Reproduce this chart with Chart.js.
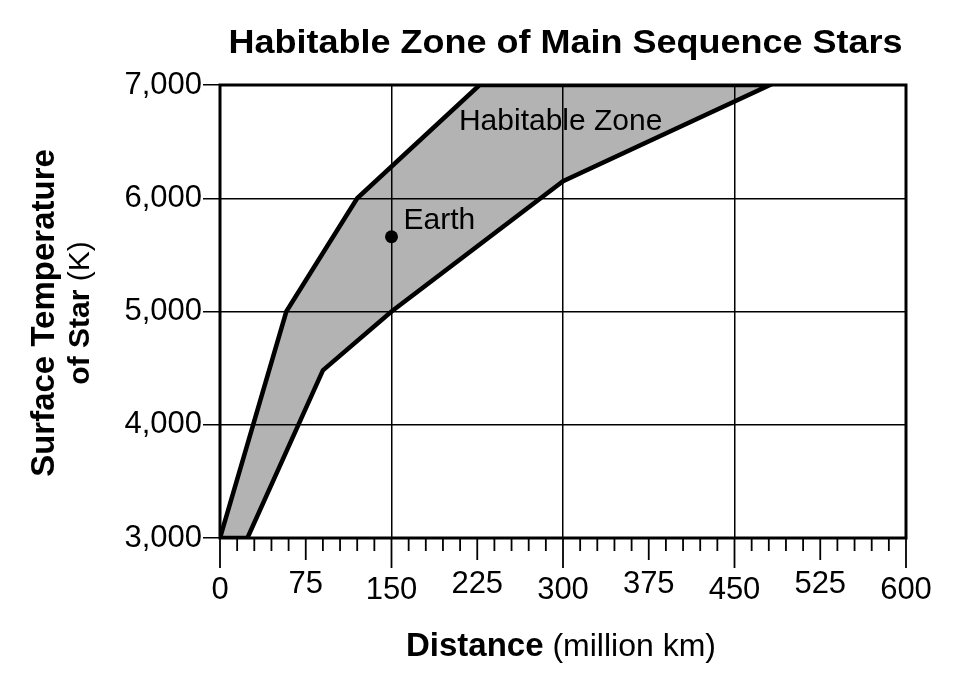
<!DOCTYPE html>
<html>
<head>
<meta charset="utf-8">
<script src="https://cdn.jsdelivr.net/npm/chart.js@4.4.1/dist/chart.umd.min.js"></script>
<style>
html,body{margin:0;padding:0;background:#fff;}
#wrap{width:955px;height:673px;position:relative;}
</style>
</head>
<body>
<div id="wrap"><canvas id="c" width="955" height="673"></canvas></div>
<script>
// ---- data ----
const chartTitle = 'Habitable Zone of Main Sequence Stars';
const xTickLabels = [0, 75, 150, 225, 300, 375, 450, 525, 600];
const yTickLabels = [3000, 4000, 5000, 6000, 7000];
const innerDist = [0, 58, 120, 227];
const innerTemp = [3000, 5000, 6000, 7000];
const outerDist = [24, 90, 150, 300, 481];
const outerTemp = [3000, 4480, 5000, 6150, 7000];
const earthDist = [150];
const earthTemp = [5660];
const zoneLabel = {text: 'Habitable Zone', x: 209, y: 6600};

const FONT = "'Liberation Sans', Arial, Helvetica, sans-serif";

// polygon: inner boundary up, outer boundary down
const zonePoly = [];
innerDist.forEach((d, i) => zonePoly.push({x: d, y: innerTemp[i]}));
for (let i = outerDist.length - 1; i >= 0; i--) zonePoly.push({x: outerDist[i], y: outerTemp[i]});
zonePoly.push({x: innerDist[0], y: innerTemp[0]});

const earthPts = earthDist.map((d, i) => ({x: d, y: earthTemp[i]}));

const decor = {
  id: 'decor',
  afterDraw(chart) {
    const ctx = chart.ctx;
    const a = chart.chartArea;
    const xs = chart.scales.x, ys = chart.scales.y;
    ctx.save();
    // frame
    ctx.strokeStyle = '#000';
    ctx.lineWidth = 3;
    ctx.strokeRect(a.left, a.top, a.right - a.left, a.bottom - a.top);
    // x tick marks
    ctx.lineWidth = 1.8;
    xs.ticks.forEach(t => {
      const v = t.value;
      const px = xs.getPixelForValue(v);
      const len = (v % 150 === 0) ? 30 : (v % 75 === 0 ? 22 : 13);
      ctx.beginPath();
      ctx.moveTo(px, a.bottom);
      ctx.lineTo(px, a.bottom + len);
      ctx.stroke();
    });
    // x tick labels (staggered)
    ctx.fillStyle = '#000';
    ctx.font = '31px ' + FONT;
    ctx.textAlign = 'center';
    ctx.textBaseline = 'alphabetic';
    xTickLabels.forEach(v => {
      const px = xs.getPixelForValue(v);
      const base = (v % 150 === 0) ? 599 : 593;
      ctx.fillText(String(v), px, base);
    });
    // x axis title
    const xb = 'Distance', xr = ' (million km)';
    ctx.font = 'bold 33px ' + FONT;
    const wb = ctx.measureText(xb).width;
    ctx.font = '32px ' + FONT;
    const wr = ctx.measureText(xr).width;
    let sx = 561 - (wb + wr) / 2;
    ctx.textAlign = 'left';
    ctx.font = 'bold 33px ' + FONT;
    ctx.fillText(xb, sx, 656);
    ctx.font = '32px ' + FONT;
    ctx.fillText(xr, sx + wb, 656);
    // y axis title (rotated)
    ctx.save();
    ctx.rotate(-Math.PI / 2);
    ctx.textBaseline = 'middle';
    ctx.textAlign = 'center';
    const cy = 313;
    ctx.font = 'bold 33px ' + FONT;
    ctx.fillText('Surface Temperature', -cy, 45);
    const l2b = 'of Star', l2r = ' (K)';
    ctx.font = 'bold 30px ' + FONT;
    const w2b = ctx.measureText(l2b).width;
    ctx.font = '30px ' + FONT;
    const w2r = ctx.measureText(l2r).width;
    ctx.textAlign = 'left';
    const s2 = -cy - (w2b + w2r) / 2;
    ctx.font = 'bold 30px ' + FONT;
    ctx.fillText(l2b, s2, 81);
    ctx.font = '30px ' + FONT;
    ctx.fillText(l2r, s2 + w2b, 81);
    ctx.restore();
    // chart title
    ctx.font = 'bold 34px ' + FONT;
    const tw = ctx.measureText(chartTitle).width;
    const target = 674;
    ctx.save();
    ctx.translate(565.5, 53);
    ctx.scale(target / tw, 1);
    ctx.textAlign = 'center';
    ctx.textBaseline = 'alphabetic';
    ctx.fillText(chartTitle, 0, 0);
    ctx.restore();
    // annotations
    ctx.font = '30px ' + FONT;
    ctx.textAlign = 'left';
    ctx.textBaseline = 'alphabetic';
    ctx.fillText(zoneLabel.text, xs.getPixelForValue(zoneLabel.x), ys.getPixelForValue(zoneLabel.y));
    const ex = xs.getPixelForValue(earthDist[0]), ey = ys.getPixelForValue(earthTemp[0]);
    ctx.fillText('Earth', ex + 12, ey - 8);
    ctx.restore();
  }
};

new Chart(document.getElementById('c'), {
  type: 'scatter',
  data: {
    datasets: [
      {
        label: 'Habitable Zone',
        data: zonePoly,
        showLine: true,
        fill: 'shape',
        backgroundColor: '#b3b3b3',
        borderColor: '#000',
        borderWidth: 4.5,
        borderJoinStyle: 'miter',
        pointRadius: 0,
        pointHoverRadius: 0,
        tension: 0
      },
      {
        label: 'Earth',
        data: earthPts,
        showLine: false,
        pointRadius: 6.5,
        pointBackgroundColor: '#000',
        pointBorderWidth: 0,
        pointHoverRadius: 6.5
      }
    ]
  },
  options: {
    responsive: false,
    animation: false,
    devicePixelRatio: 1,
    layout: {padding: {top: 85, right: 49, bottom: 135, left: 0}},
    plugins: {
      legend: {display: false},
      tooltip: {enabled: false},
      title: {display: false},
      filler: {drawTime: 'beforeDraw'}
    },
    scales: {
      x: {
        type: 'linear',
        min: 0, max: 600,
        ticks: {display: false, stepSize: 15},
        grid: {
          drawTicks: false,
          color: c => (c.tick && c.tick.value % 150 === 0) ? '#000' : 'rgba(0,0,0,0)',
          lineWidth: 1.5
        },
        border: {display: false},
        afterFit: s => { s.height = 0; }
      },
      y: {
        type: 'linear',
        min: 3000, max: 7000,
        ticks: {
          stepSize: 1000,
          color: '#000',
          padding: 1,
          font: {family: FONT, size: 31},
          callback: v => v.toLocaleString('en-US')
        },
        grid: {color: '#000', lineWidth: 1.5, tickLength: 17, tickColor: '#000'},
        border: {display: false},
        afterFit: s => { s.width = 220; }
      }
    }
  },
  plugins: [decor]
});
</script>
</body>
</html>
